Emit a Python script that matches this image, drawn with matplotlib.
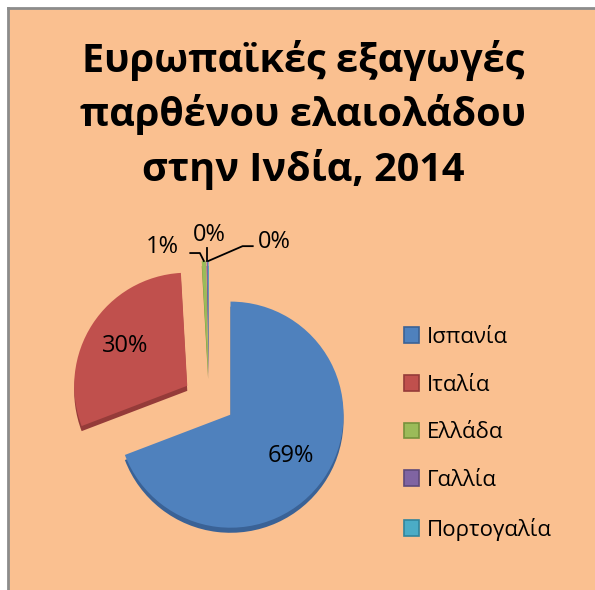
import matplotlib
matplotlib.use("Agg")
import matplotlib.pyplot as plt
from matplotlib.patches import Rectangle, Patch
import numpy as np

plt.rcParams['font.family'] = ['Open Sans', 'DejaVu Sans']

# -------------------------------
# DATA
# -------------------------------
title = "Ευρωπαϊκές εξαγωγές\nπαρθένου ελαιολάδου\nστην Ινδία, 2014"
countries = ["Ισπανία", "Ιταλία", "Ελλάδα", "Γαλλία", "Πορτογαλία"]
shares = [69.2, 29.9, 0.6, 0.2, 0.1]

colors = ["#4F81BD", "#C0504D", "#9BBB59", "#8064A2", "#4BACC6"]
dark = ["#3A6296", "#953B39", "#76923C", "#5F4A7A", "#31859C"]
bg = "#FAC090"

fig = plt.figure(figsize=(5.95, 5.90), dpi=100)
fig.patch.set_facecolor("white")

# chart area (clipped at right / bottom like the original)
fig.patches.append(Rectangle((8 / 595, 0), 1, 1 - 8 / 590, transform=fig.transFigure,
                             facecolor=bg, edgecolor="none", zorder=-2))
fig.lines.append(plt.Line2D([8 / 595, 8 / 595], [0, 1 - 8 / 590], transform=fig.transFigure,
                            color="#8C8C8C", lw=2, zorder=-1))
fig.lines.append(plt.Line2D([8 / 595, 1], [1 - 8 / 590, 1 - 8 / 590], transform=fig.transFigure,
                            color="#8C8C8C", lw=2, zorder=-1))

fig.text(0.51, 1 - 40 / 590, title, ha="center", va="top", fontsize=28.5,
         fontweight="bold", linespacing=1.42)

# -------------------------------
# PIE
# -------------------------------
ax = fig.add_axes([0.0664, 0.0347, 0.570, 0.575])
ax.patch.set_visible(False)

explode = [0.23] * len(shares)

# darker copy shifted down gives the thin 3D rim
ax.pie(shares, explode=explode, colors=dark, startangle=90, counterclock=False,
       center=(0, -0.045), wedgeprops=dict(linewidth=0))
wedges, _, autotexts = ax.pie(shares, explode=explode, colors=colors, startangle=90,
                              counterclock=False, autopct="%1.0f%%", pctdistance=0.65,
                              wedgeprops=dict(linewidth=0),
                              textprops=dict(fontsize=17))

for i, t in enumerate(autotexts):
    if i >= 2:
        t.set_visible(False)

# outside labels for the tiny slices
label_off = [(-0.37, 0.12), (0.02, 0.23), (0.58, 0.17)]
elbow_off = [[(-0.035, 0.07), (-0.12, 0.07)],
             [(0.0, 0.11)],
             [(0.30, 0.13), (0.39, 0.13)]]
for k, i in enumerate(range(2, len(shares))):
    w = wedges[i]
    ang = np.deg2rad((w.theta1 + w.theta2) / 2)
    cx, cy = w.center
    tx, ty = cx + w.r * np.cos(ang), cy + w.r * np.sin(ang)
    pts = [(tx, ty)] + [(tx + dx, ty + dy) for dx, dy in elbow_off[k]]
    ax.plot([p[0] for p in pts], [p[1] for p in pts], color="black", lw=1.3)
    ax.text(tx + label_off[k][0], ty + label_off[k][1],
            "%1.0f%%" % shares[i], ha="center", va="center", fontsize=17)

ax.set_xlim(-1.5, 1.5)
ax.set_ylim(-1.5, 1.5)
ax.set_aspect("equal")
ax.axis("off")

# -------------------------------
# LEGEND
# -------------------------------
handles = [Patch(facecolor=c, edgecolor=d, linewidth=1.2) for c, d in zip(colors, dark)]
fig.legend(handles, countries, loc="upper left", bbox_to_anchor=(395 / 595, 1 - 318 / 590),
           frameon=False, fontsize=16, handlelength=0.7, handleheight=0.7,
           handletextpad=0.35, labelspacing=1.2, borderaxespad=0)

fig.savefig("out.png", dpi=100, facecolor=fig.get_facecolor())
